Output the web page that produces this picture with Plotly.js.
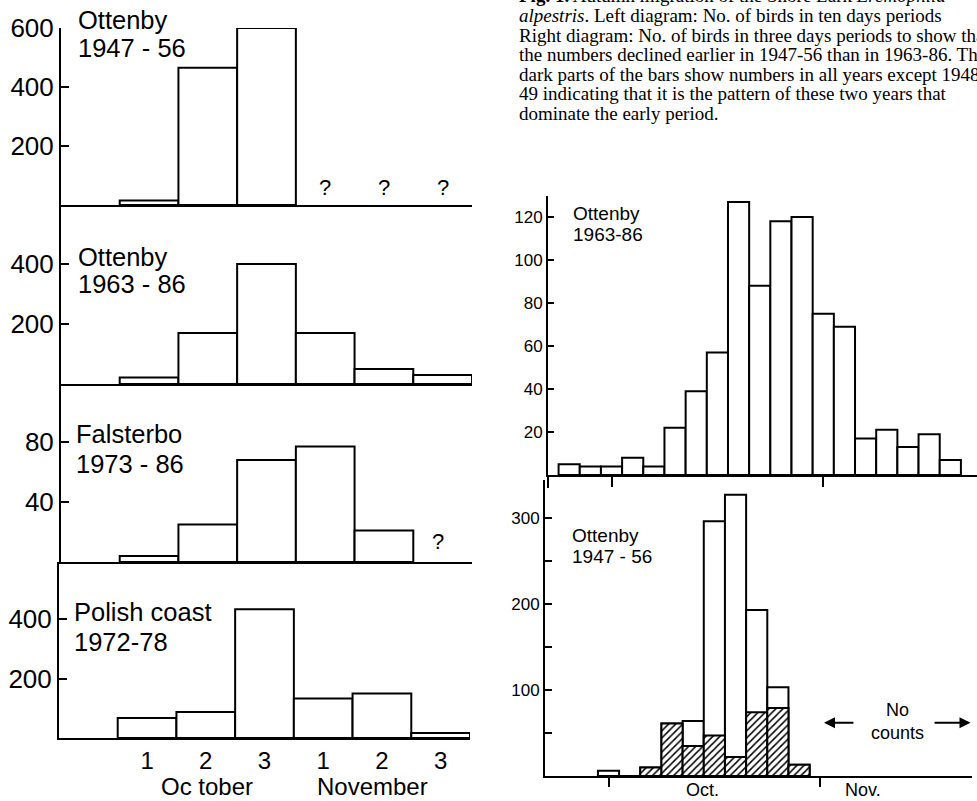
<!DOCTYPE html>
<html>
<head>
<meta charset="utf-8">
<script src="https://cdn.plot.ly/plotly-3.0.1.min.js"></script>
<style>html,body{margin:0;padding:0;background:#fff;}#chart{width:977px;height:801px;}</style>
</head>
<body>
<div id="chart"></div>
<script>
// ---------- DATA ----------
// Left diagram: ten-day periods (Oct 1-3, Nov 1-3)
const leftBins = [0, 1, 2, 3, 4, 5];
const leftTickText = ['1', '2', '3', '1', '2', '3'];
const ottenby4756_10d = [15, 465, 600, null, null, null];
const ottenby6386_10d = [22, 170, 400, 170, 50, 30];
const falsterbo7386_10d = [4, 25, 68, 77, 21, null];
const polish7278_10d = [67, 87, 433, 133, 150, 17];
// Right diagram: three-day periods (bin 0 = 1-3 Oct, bin 10 = start of Nov)
const binsTop = [-2, -1, 0, 1, 2, 3, 4, 5, 6, 7, 8, 9, 10, 11, 12, 13, 14, 15, 16];
const ottenby6386_3d = [5, 4, 4, 8, 4, 22, 39, 57, 127, 88, 118, 120, 75, 69, 17, 21, 13, 19, 7];
const binsBottom = [0, 1, 2, 3, 4, 5, 6, 7, 8, 9];
const ottenby4756_3d_all = [6, 0, 10, 61, 64, 296, 327, 193, 103, 13];
const ottenby4756_3d_excl4849 = [null, null, 10, 61, 35, 47, 22, 74, 79, 13];

// ---------- LAYOUT HELPERS ----------
const W = 977, H = 801;
const xd = (a, b) => [a / W, b / W];
const yd = (top, bottom) => [1 - bottom / H, 1 - top / H];
const px = v => v / W, py = v => 1 - v / H;
const SANS = 'Liberation Sans, Arial, sans-serif';
const SERIF = 'Liberation Serif, Times New Roman, serif';

const barStyle = {color: 'white', line: {color: 'black', width: 2}};
function bars(x, y, xa, ya, extra) {
  return Object.assign({type: 'bar', x: x, y: y, xaxis: xa, yaxis: ya, width: 1,
    marker: barStyle, hoverinfo: 'skip', showlegend: false}, extra || {});
}

const traces = [
  bars(leftBins, ottenby4756_10d, 'x', 'y'),
  bars(leftBins, ottenby6386_10d, 'x2', 'y2'),
  bars(leftBins, falsterbo7386_10d, 'x3', 'y3'),
  bars(leftBins, polish7278_10d, 'x4', 'y4'),
  bars(binsTop, ottenby6386_3d, 'x5', 'y5'),
  bars(binsBottom, ottenby4756_3d_all, 'x6', 'y6'),
  bars(binsBottom, ottenby4756_3d_excl4849, 'x6', 'y6', {
    marker: {color: 'white', line: {color: 'black', width: 2},
      pattern: {shape: '/', size: 5, solidity: 0.3, fgcolor: 'black', bgcolor: 'white', fillmode: 'replace'}}
  })
];

function xAxis(dom, range, extra) {
  return Object.assign({domain: dom, range: range, showgrid: false, zeroline: false,
    showline: true, linecolor: 'black', linewidth: 2, ticks: '', showticklabels: false,
    fixedrange: true, automargin: false}, extra || {});
}
function yAxis(dom, range, tickvals, ticktext, fs, extra) {
  return Object.assign({domain: dom, range: range, showgrid: false, zeroline: false,
    showline: true, linecolor: 'black', linewidth: 2, ticks: 'inside', ticklen: 8, tickwidth: 2,
    tickcolor: 'black', tickvals: tickvals, ticktext: ticktext,
    tickfont: {family: SANS, size: fs, color: 'black'}, fixedrange: true, automargin: false}, extra || {});
}

const L = [-1.5, 5.5];
const layout = {
  width: W, height: H, margin: {l: 0, r: 0, t: 0, b: 0},
  paper_bgcolor: 'white', plot_bgcolor: 'rgba(0,0,0,0)',
  barmode: 'overlay', bargap: 0, showlegend: false,
  font: {family: SANS, color: 'black'},
  xaxis: xAxis(xd(61, 472), L, {anchor: 'y'}),
  yaxis: yAxis(yd(28, 205), [0, 600], [200, 400, 600], ['200', '400', '600'], 26, {anchor: 'x'}),
  xaxis2: xAxis(xd(61, 472), L, {anchor: 'y2'}),
  yaxis2: yAxis(yd(205, 384), [0, 596.7], [200, 400], ['200', '400'], 26, {anchor: 'x2'}),
  xaxis3: xAxis(xd(61, 472), L, {anchor: 'y3'}),
  yaxis3: yAxis(yd(384, 562), [0, 118.7], [40, 80], ['40', '80'], 26, {anchor: 'x3'}),
  xaxis4: xAxis(xd(59, 470), L, {anchor: 'y4', showticklabels: true, tickvals: leftBins, ticktext: leftTickText,
    tickfont: {family: SANS, size: 24, color: 'black'}, ticklabelstandoff: 0}),
  yaxis4: yAxis(yd(562, 738), [0, 591.6], [200, 400], ['200', '400'], 26, {anchor: 'x4'}),
  xaxis5: xAxis(xd(548, 977), [-3, 17.26], {anchor: 'y5', ticks: 'outside', ticklen: 10, tickwidth: 2,
    tickcolor: 'black', tickvals: [0, 10]}),
  yaxis5: yAxis(yd(196, 475), [0, 129.8], [20, 40, 60, 80, 100, 120], ['20', '40', '60', '80', '100', '120'], 17,
    {anchor: 'x5', ticklen: 6}),
  xaxis6: xAxis(xd(545, 972), [-3, 17.17], {anchor: 'y6', ticks: 'outside', ticklen: 9, tickwidth: 2,
    tickcolor: 'black', tickvals: [0, 10]}),
  yaxis6: yAxis(yd(480, 776), [0, 344], [50, 100, 150, 200, 250, 300], ['', '100', '', '200', '', '300'], 17,
    {anchor: 'x6', ticklen: 7}),
  shapes: [
    {type: 'line', xref: 'paper', yref: 'paper', x0: px(548), x1: px(548), y0: py(475), y1: py(488),
      line: {color: 'black', width: 2}}
  ],
  annotations: []
};

function lab(text, x, y, size, opts) {
  layout.annotations.push(Object.assign({text: text, xref: 'paper', yref: 'paper', x: px(x), y: py(y),
    xanchor: 'left', yanchor: 'middle', showarrow: false,
    font: {family: SANS, size: size, color: 'black'}}, opts || {}));
}
// Left panel labels
lab('Ottenby', 76, 20, 25.5); lab('1947 - 56', 76, 48, 25.5);
lab('Ottenby', 76, 257, 25.5); lab('1963 - 86', 76, 284, 25.5);
lab('Falsterbo', 74, 434, 25.5); lab('1973 - 86', 74, 464, 25.5);
lab('Polish coast', 72, 612, 25.5); lab('1972-78', 72, 642, 25.5);
lab('Oc tober', 207, 786, 24, {xanchor: 'center'});
lab('November', 372, 786, 24, {xanchor: 'center'});
// Right panel labels
lab('Ottenby', 571, 213, 19); lab('1963-86', 571, 234, 19);
lab('Ottenby', 570, 535, 19); lab('1947 - 56', 570, 556, 19);
// Question marks (no data)
[3, 4, 5].forEach(b => layout.annotations.push({text: '?', xref: 'x', yref: 'y', x: b, y: 58,
  showarrow: false, font: {family: SANS, size: 22, color: 'black'}}));
layout.annotations.push({text: '?', xref: 'x3', yref: 'y3', x: 4.92, y: 14,
  showarrow: false, font: {family: SANS, size: 22, color: 'black'}});
// Oct./Nov. labels
layout.annotations.push({text: 'Oct.', xref: 'x6', yref: 'paper', x: 4.46, y: py(790), yanchor: 'middle',
  showarrow: false, font: {family: SANS, size: 18, color: 'black'}});
layout.annotations.push({text: 'Nov.', xref: 'x6', yref: 'paper', x: 12.0, y: py(790), yanchor: 'middle',
  showarrow: false, font: {family: SANS, size: 18, color: 'black'}});
// No counts
layout.annotations.push({text: 'No<br>counts', xref: 'x6', yref: 'y6', x: 13.63, y: 63,
  showarrow: false, align: 'center', font: {family: SANS, size: 18, color: 'black'}});
layout.annotations.push({text: '', xref: 'x6', yref: 'y6', x: 10.18, y: 62, axref: 'x6', ayref: 'y6',
  ax: 11.64, ay: 62, showarrow: true, arrowhead: 2, arrowsize: 1.1, arrowwidth: 2, arrowcolor: 'black'});
layout.annotations.push({text: '', xref: 'x6', yref: 'y6', x: 17.1, y: 62, axref: 'x6', ayref: 'y6',
  ax: 15.33, ay: 62, showarrow: true, arrowhead: 2, arrowsize: 1.1, arrowwidth: 2, arrowcolor: 'black'});

// Caption (figure legend text, partly cut off at the top and right edges)
const caption = [
  '<b>Fig. 1.</b> Autumn migration of the Shore Lark <i>Eremophila</i>',
  '<i>alpestris</i>. Left diagram: No. of birds in ten days periods',
  'Right diagram: No. of birds in three days periods to show that',
  'the numbers declined earlier in 1947-56 than in 1963-86. The',
  'dark parts of the bars show numbers in all years except 1948-',
  '49 indicating that it is the pattern of these two years that',
  'dominate the early period.'
];
caption.forEach((t, i) => lab(t, 517, -4 + i * 19.6, 19, {font: {family: SERIF, size: 19, color: 'black'}}));

Plotly.newPlot('chart', traces, layout, {staticPlot: true, displayModeBar: false});
</script>
</body>
</html>
